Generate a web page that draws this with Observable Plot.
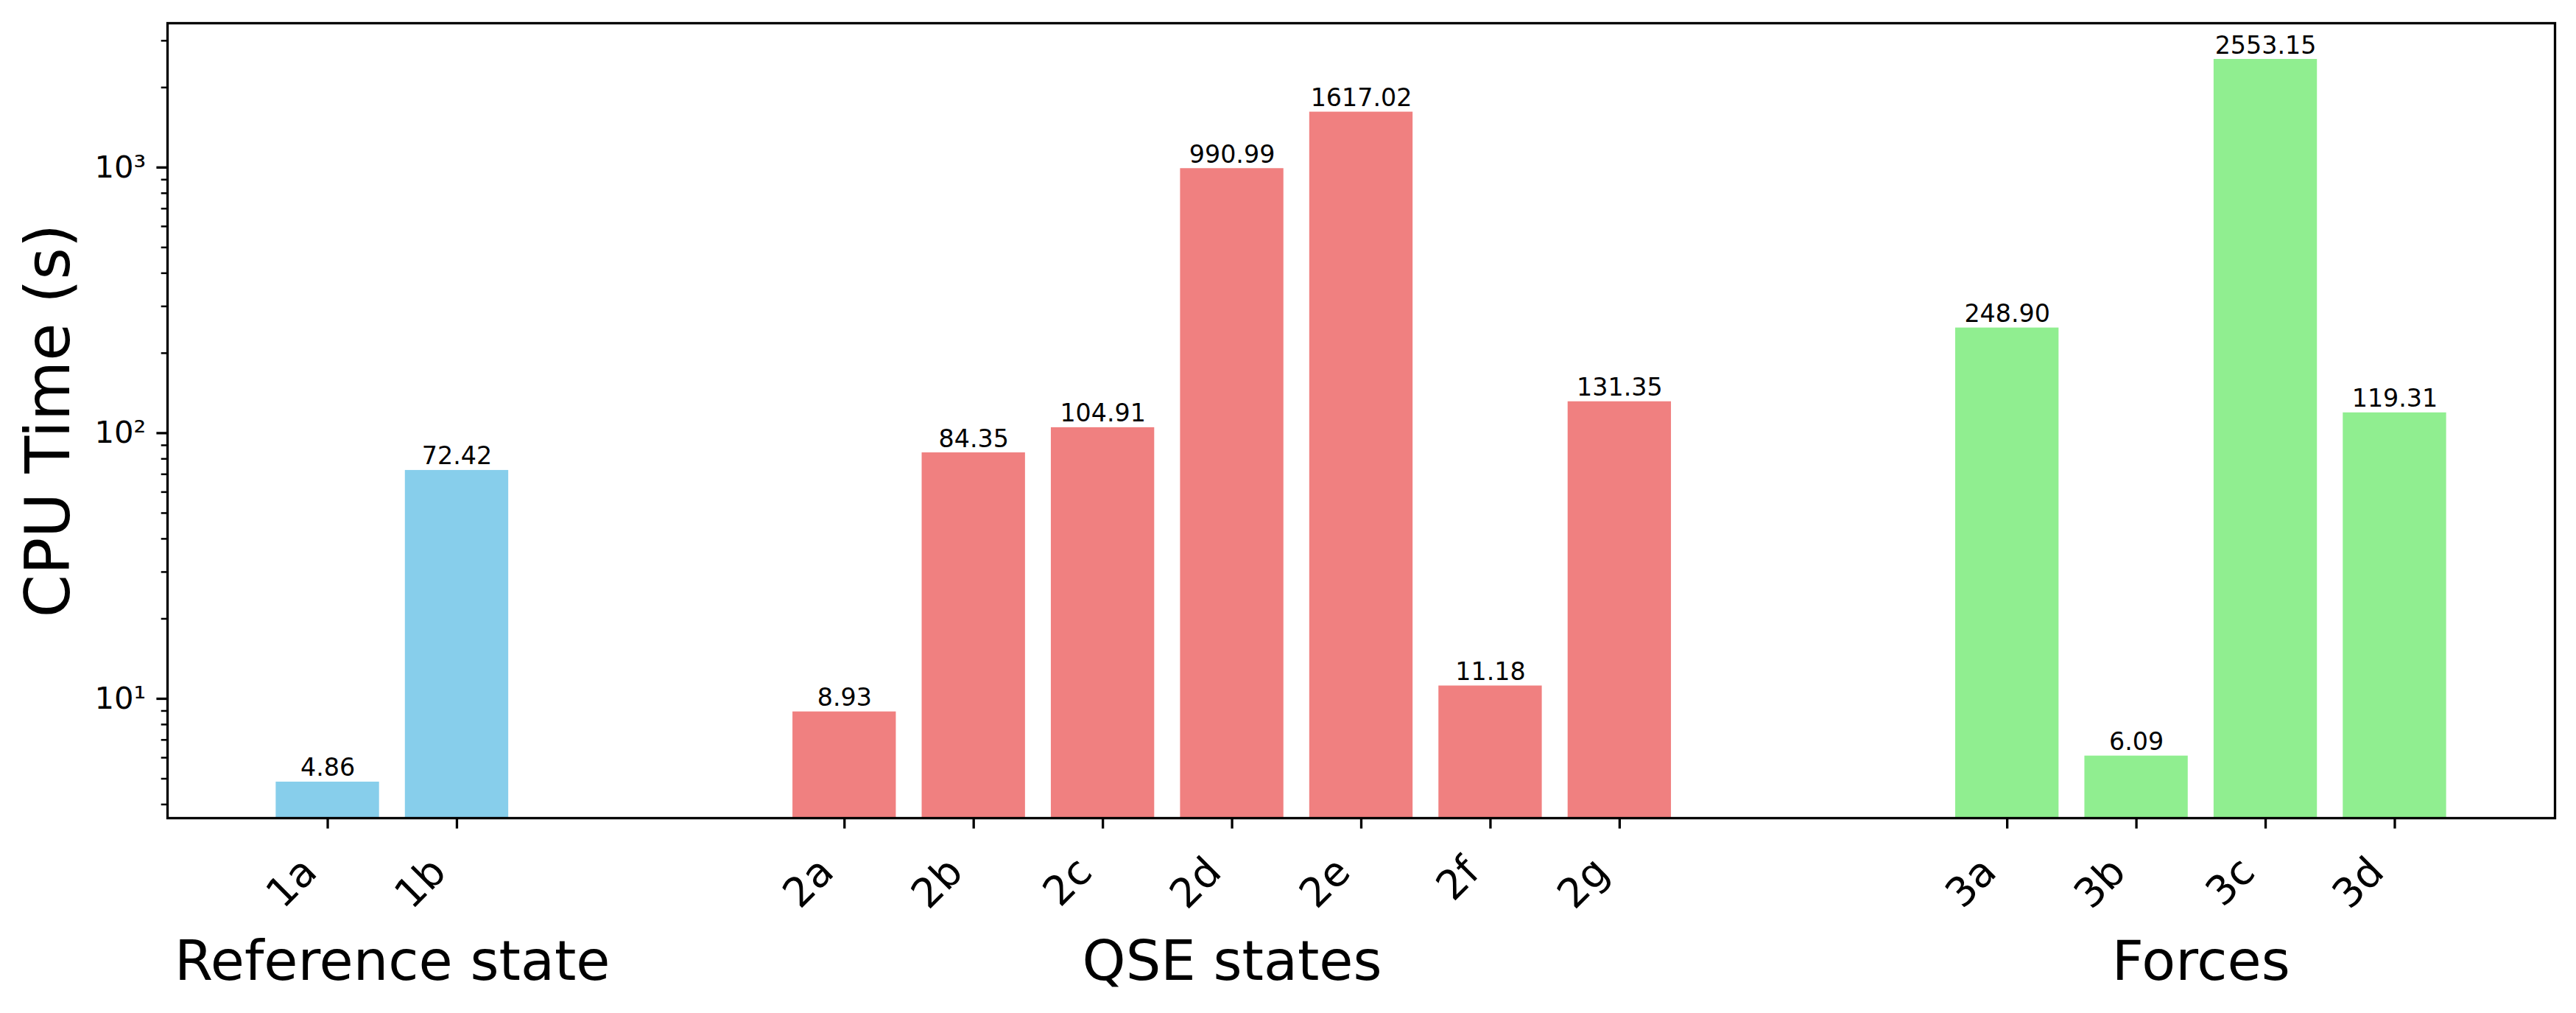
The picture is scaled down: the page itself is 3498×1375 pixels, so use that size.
<!DOCTYPE html>
<html><head><meta charset="utf-8">
<script src="https://cdn.jsdelivr.net/npm/d3@7"></script>
<script src="https://cdn.jsdelivr.net/npm/@observablehq/plot@0.6"></script>
<style>html,body{margin:0;padding:0;background:#fff;overflow:hidden}</style>
</head><body><div id="chart"></div>
<script>
const referenceLabels = ["1a", "1b"];
const referenceValues = [4.86, 72.42];
const qseLabels = ["2a", "2b", "2c", "2d", "2e", "2f", "2g"];
const qseValues = [8.93, 84.35, 104.91, 990.99, 1617.02, 11.18, 131.35];
const forceLabels = ["3a", "3b", "3c", "3d"];
const forceValues = [248.90, 6.09, 2553.15, 119.31];
const groupNames = ["Reference state", "QSE states", "Forces"];
const groupColors = ["#87CEEB", "#F08080", "#90EE90"];
const yMajorTicks = [10, 100, 1000];
const yTickLabels = ["10¹", "10²", "10³"];
const yAxisTitle = "CPU Time (s)";

const groups = [[referenceLabels, referenceValues], [qseLabels, qseValues], [forceLabels, forceValues]];
const bars = [];
const groupCenters = [];
let pos = 0;
groups.forEach(([labels, values], g) => {
  const start = pos;
  labels.forEach((l, i) => { bars.push({label: l, value: values[i], group: groupNames[g], x: pos}); pos++; });
  groupCenters.push({name: groupNames[g], x: (start + pos - 1) / 2});
  pos += 2;
});

const half = 0.4;
const xLo = d3.min(bars, d => d.x) - half, xHi = d3.max(bars, d => d.x) + half;
const xm = 0.05 * (xHi - xLo);
const lo = Math.log10(d3.min(bars, d => d.value)), hi = Math.log10(d3.max(bars, d => d.value));
const ym = 0.05 * (hi - lo);
const yMin = Math.pow(10, lo - ym), yMax = Math.pow(10, hi + ym);
const minorTicks = [];
for (let e = -1; e <= 4; e++) for (let k = 2; k <= 9; k++) {
  const v = k * Math.pow(10, e);
  if (v >= yMin && v <= yMax) minorTicks.push(v);
}

const chart = Plot.plot({
  width: 3498,
  height: 1375,
  marginLeft: 227,
  marginRight: 29,
  marginTop: 31,
  marginBottom: 265,
  style: {fontFamily: "'DejaVu Sans', sans-serif", fontSize: "41.7px", background: "#fff", color: "#000"},
  x: {domain: [xLo - xm, xHi + xm], label: null},
  y: {type: "log", domain: [yMin, yMax], label: null},
  color: {domain: groupNames, range: groupColors},
  marks: [
    Plot.rect(bars, {x1: d => d.x - half, x2: d => d.x + half, y1: d => yMin, y2: "value", fill: "group"}),
    Plot.text(bars, {x: "x", y: "value", text: d => d.value.toFixed(2), dy: -8, lineAnchor: "bottom", fontSize: 33.3, fill: "#000"}),
    Plot.axisY(minorTicks, {tickSize: 8.3, tickFormat: () => "", strokeWidth: 2.5, label: null}),
    Plot.axisY(yMajorTicks, {tickSize: 14.6, tickPadding: 14.6, tickFormat: d => yTickLabels[yMajorTicks.indexOf(d)], strokeWidth: 3.3, fontSize: 41.7, label: null}),
    Plot.axisX(bars.map(d => d.x), {tickSize: 14.6, tickFormat: () => "", strokeWidth: 3.3, label: null}),
    Plot.text(bars, {x: "x", frameAnchor: "bottom", text: "label", rotate: -45, textAnchor: "end", lineAnchor: "bottom", dx: -12, dy: 76, fontSize: 55, fill: "#000"}),
    Plot.text(groupCenters, {x: "x", frameAnchor: "bottom", text: "name", dy: 219, lineAnchor: "bottom", fontSize: 75, fill: "#000"}),
    Plot.text([yAxisTitle], {text: d => d, frameAnchor: "left", rotate: -90, dx: -134, textAnchor: "middle", lineAnchor: "bottom", fontSize: 83.3, fill: "#000"}),
    Plot.frame({stroke: "#000", strokeWidth: 3.3})
  ]
});
document.getElementById("chart").appendChild(chart);
</script>
</body></html>
